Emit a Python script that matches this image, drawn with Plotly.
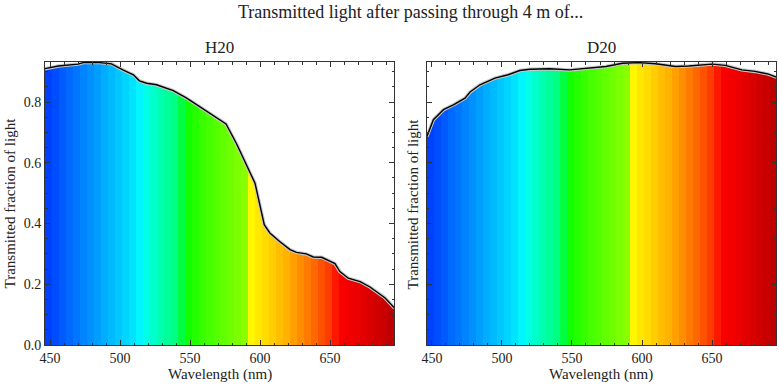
import numpy as np
import plotly.graph_objects as go
from plotly.subplots import make_subplots

# ---- data ----
h2o_wl = [446.4, 456, 470, 473.7, 485.4, 493.8, 502, 509.5, 513.8, 519, 526, 538, 547.6, 561.9,
          575.7, 583.3, 590.5, 596.4, 603, 607, 614, 621.4, 626, 633, 638, 644, 653.5, 657, 663,
          671.4, 678.5, 689.3, 696]
h2o_tr = [0.910, 0.919, 0.925, 0.930, 0.930, 0.926, 0.906, 0.890, 0.870, 0.862, 0.857, 0.838, 0.813,
          0.769, 0.728, 0.662, 0.594, 0.533, 0.396, 0.369, 0.341, 0.314, 0.305, 0.300, 0.290, 0.289,
          0.268, 0.242, 0.220, 0.209, 0.191, 0.155, 0.122]

d2o_wl = [446.4, 451, 458.2, 465.3, 473.6, 477.2, 484.3, 495, 504.4, 512.7, 519.8, 534, 548.2, 562.4,
          574.3, 586, 598, 609.8, 624, 633.4, 650, 659.5, 671.3, 680.8, 690.3, 696]
d2o_tr = [0.687, 0.742, 0.775, 0.791, 0.813, 0.833, 0.857, 0.879, 0.890, 0.904, 0.908, 0.910, 0.906,
          0.912, 0.917, 0.928, 0.930, 0.926, 0.917, 0.919, 0.925, 0.921, 0.906, 0.901, 0.892, 0.882]

panel_titles = ["H20", "D20"]
x_ticks = [450, 500, 550, 600, 650]
y_ticks = [0.0, 0.2, 0.4, 0.6, 0.8]

# ---- style ----
X_RANGE = [446.4, 695.7]
Y_RANGE = [0.0, 0.932]
BAND = 5.0
# spectral colour stops (wavelength, r, g, b)
color_stops = [
    (440, 0, 40, 255), (513.5, 0, 240, 255), (514.5, 0, 255, 255), (530, 0, 255, 170),
    (543.5, 0, 255, 110), (544.5, 0, 255, 0), (560, 60, 255, 0), (589.5, 140, 255, 0),
    (590.5, 255, 255, 0), (600, 255, 230, 0), (620, 255, 175, 0), (640, 255, 100, 0),
    (653.5, 255, 40, 0), (654.5, 255, 0, 0), (670, 235, 0, 0), (700, 180, 0, 0),
]
FONT = "Liberation Serif"
TXT = "#222"


def spec_color(w):
    ws = [s[0] for s in color_stops]
    r = np.interp(w, ws, [s[1] for s in color_stops])
    g = np.interp(w, ws, [s[2] for s in color_stops])
    b = np.interp(w, ws, [s[3] for s in color_stops])
    return f"rgb({int(r)},{int(g)},{int(b)})"


band_centers = np.arange(X_RANGE[0] + BAND / 2, X_RANGE[1] + BAND, BAND)
band_colors = [spec_color(w) for w in band_centers]

fig = make_subplots(rows=1, cols=2, shared_yaxes=True, horizontal_spacing=0.045)

for col, (wl, tr) in enumerate([(h2o_wl, h2o_tr), (d2o_wl, d2o_tr)], start=1):
    fig.add_trace(go.Bar(x=band_centers, y=[Y_RANGE[1]] * len(band_centers), width=BAND,
                         marker=dict(color=band_colors, line=dict(width=0)),
                         showlegend=False, hoverinfo="skip"), row=1, col=col)
    fig.add_trace(go.Scatter(x=wl, y=[Y_RANGE[1] + 0.01] * len(wl), mode="lines",
                             line=dict(width=0), showlegend=False, hoverinfo="skip"),
                  row=1, col=col)
    fig.add_trace(go.Scatter(x=wl, y=tr, mode="lines", fill="tonexty", fillcolor="white",
                             line=dict(color="rgb(200,200,200)", width=3.5),
                             showlegend=False, hoverinfo="skip"), row=1, col=col)
    fig.add_trace(go.Scatter(x=wl, y=tr, mode="lines",
                             line=dict(color="black", width=1.4),
                             showlegend=False), row=1, col=col)

axis_common = dict(showline=True, linecolor="#333", linewidth=1, mirror="ticks",
                   ticks="inside", ticklen=5, tickwidth=1, tickcolor="#333",
                   showgrid=False, zeroline=False,
                   tickfont=dict(family=FONT, size=14, color=TXT))

for i in (1, 2):
    fig.update_xaxes(range=X_RANGE, tickvals=x_ticks,
                     minor=dict(ticks="inside", ticklen=2.5, dtick=10, tick0=450, tickcolor="#333"),
                     row=1, col=i, **axis_common)
    fig.update_yaxes(range=Y_RANGE, tickvals=y_ticks, tickformat=".1f",
                     minor=dict(ticks="inside", ticklen=2.5, dtick=0.05, tick0=0, tickcolor="#333"),
                     row=1, col=i, **axis_common)
fig.update_yaxes(showticklabels=False, row=1, col=2)

fig.update_layout(
    width=779, height=387,
    margin=dict(l=45, r=3, t=62, b=42, autoexpand=False),
    paper_bgcolor="white", plot_bgcolor="white",
    bargap=0, barmode="overlay",
    font=dict(family=FONT, color=TXT),
    showlegend=False,
)
fig.add_annotation(text="Transmitted light after passing through 4 m of...", x=0.5, y=1,
                   xref="paper", yref="paper", yanchor="middle", yshift=50, showarrow=False,
                   font=dict(family=FONT, size=18, color=TXT))
for dom_ref, t in zip(["x domain", "x2 domain"], panel_titles):
    fig.add_annotation(text=t, x=0.5, y=1, xref=dom_ref, yref="paper", yanchor="middle",
                       yshift=15, showarrow=False, font=dict(family=FONT, size=17, color=TXT))
    fig.add_annotation(text="Wavelength (nm)", x=0.5, y=0, xref=dom_ref, yref="paper",
                       yanchor="middle", yshift=-29, showarrow=False,
                       font=dict(family=FONT, size=15, color=TXT))
for dom_ref, shift in zip(["x domain", "x2 domain"], [-36, -14]):
    fig.add_annotation(text="Transmitted fraction of light", textangle=-90, x=0, y=0.5,
                       xref=dom_ref, yref="paper", xanchor="center", xshift=shift, showarrow=False,
                       font=dict(family=FONT, size=15, color=TXT))

fig.write_html("out.html", config={"displayModeBar": False},
               post_script="document.body.style.margin='0';")
